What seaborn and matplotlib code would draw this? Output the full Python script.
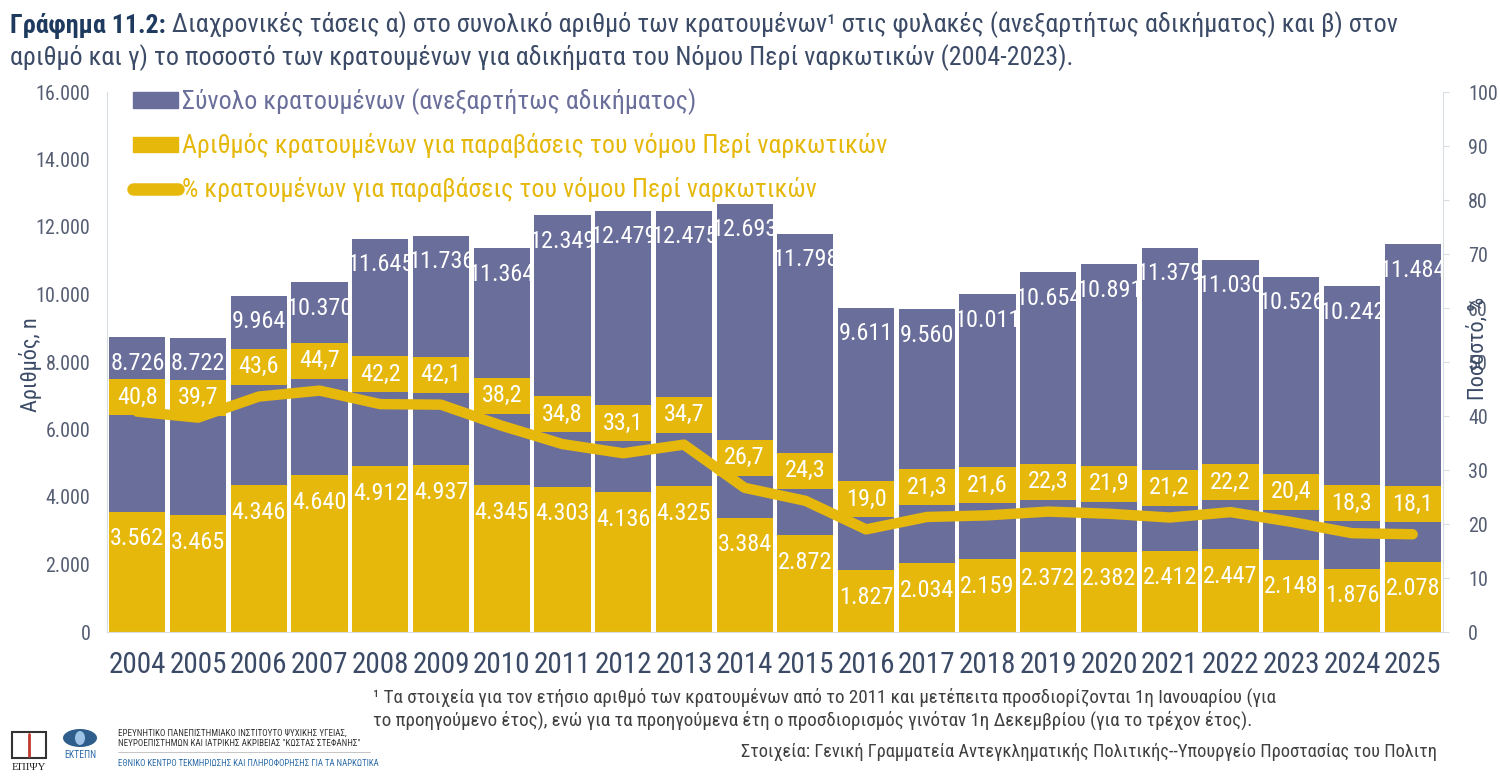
import numpy as np
import pandas as pd
import matplotlib
matplotlib.use("Agg")
import matplotlib.pyplot as plt
from matplotlib import font_manager
from matplotlib.patches import Rectangle, Ellipse
from matplotlib.lines import Line2D
import seaborn as sns

# Data
years = [str(y) for y in range(2004, 2026)]
total = [8726, 8722, 9964, 10370, 11645, 11736, 11364, 12349, 12479, 12475, 12693,
         11798, 9611, 9560, 10011, 10654, 10891, 11379, 11030, 10526, 10242, 11484]
drugs = [3562, 3465, 4346, 4640, 4912, 4937, 4345, 4303, 4136, 4325, 3384,
         2872, 1827, 2034, 2159, 2372, 2382, 2412, 2447, 2148, 1876, 2078]
pct = [40.8, 39.7, 43.6, 44.7, 42.2, 42.1, 38.2, 34.8, 33.1, 34.7, 26.7,
       24.3, 19.0, 21.3, 21.6, 22.3, 21.9, 21.2, 22.2, 20.4, 18.3, 18.1]
left_ticks = list(range(0, 16001, 2000))
right_ticks = list(range(0, 101, 10))

series_names = ["Σύνολο κρατουμένων (ανεξαρτήτως αδικήματος)",
                "Αριθμός κρατουμένων για παραβάσεις του νόμου Περί ναρκωτικών",
                "% κρατουμένων για παραβάσεις του νόμου Περί ναρκωτικών"]

purple = "#6A6E9A"
yellow = "#E5B80B"
navy = "#3B4A66"
grey_txt = "#404040"

sns.set_style("white")
installed = {f.name for f in font_manager.fontManager.ttflist}
narrow = next((f for f in ["Liberation Sans Narrow", "Roboto Condensed", "Arial Narrow"]
               if f in installed), "Liberation Sans")
plt.rcParams["font.family"] = [narrow, "DejaVu Sans"]


def gr_int(v):
    return f"{v:,}".replace(",", ".")


def gr_dec(v):
    return f"{v:.1f}".replace(".", ",")


df = pd.DataFrame({"year": years, "total": total, "drugs": drugs, "pct": pct})

fig = plt.figure(figsize=(15, 7.76), dpi=100)
ax_h_px = 540
ax = fig.add_axes([107 / 1500, 1 - 632 / 776, 1336 / 1500, ax_h_px / 776])

bw = 0.925
sns.barplot(data=df, x="year", y="total", color=purple, saturation=1, width=bw,
            linewidth=0, ax=ax)
sns.barplot(data=df, x="year", y="drugs", color=yellow, saturation=1, width=bw,
            linewidth=0, ax=ax)
ax.set_xlim(-0.5, len(years) - 0.5)
ax.set_ylim(0, 16000)
ax.set_yticks(left_ticks)
ax.set_yticklabels([gr_int(t) for t in left_ticks])
ax.tick_params(axis="y", length=0, pad=12, labelsize=14.5, labelcolor="#555E72")
ax.tick_params(axis="x", length=0, pad=14, labelsize=21, labelcolor=navy)
ax.set_xlabel("")
ax.set_ylabel("")
for s in ["top", "right"]:
    ax.spines[s].set_visible(False)
for s in ["left", "bottom"]:
    ax.spines[s].set_color("#D9DDE3")

k1 = 16000 / ax_h_px
for i in range(len(years)):
    ax.text(i, total[i] - 26 * k1, gr_int(total[i]), ha="center", va="center",
            color="white", fontsize=17.5)
    ax.text(i, drugs[i] - 27 * k1, gr_int(drugs[i]), ha="center", va="center",
            color="white", fontsize=17.5)

ax2 = ax.twinx()
sns.lineplot(x=np.arange(len(years)), y=pct, ax=ax2, color=yellow, linewidth=7.5,
             solid_capstyle="round")
ax2.set_ylim(0, 100)
ax2.set_yticks(right_ticks)
ax2.tick_params(axis="y", length=4, color="#D9DDE3", pad=14, labelsize=14.5,
                labelcolor="#555E72")
ax2.set_ylabel("")
for s in ["top", "left", "bottom"]:
    ax2.spines[s].set_visible(False)
ax2.spines["right"].set_color("#D9DDE3")

# percentage labels sit above the line, pushed down when they would hit the total label
k2 = 100 / ax_h_px
for i, p in enumerate(pct):
    tot_label = total[i] / 16000 * 100 - 26 * k2
    yc = min(p + 30 * k2, tot_label - 34 * k2)
    ax2.add_patch(Rectangle((i - bw / 2, yc - 18 * k2), bw, 36 * k2,
                            facecolor=yellow, edgecolor="none", zorder=5))
    ax2.text(i, yc, gr_dec(p), ha="center", va="center", color="white",
             fontsize=17.5, zorder=6)

fig.text(30 / 1500, 1 - 365 / 776, "Αριθμός, n", rotation=90, ha="center",
         va="center", fontsize=16, color=navy)
fig.text(1478 / 1500, 1 - 348 / 776, "Ποσοστό, %", rotation=90, ha="center",
         va="center", fontsize=16, color=navy)

handles = [Rectangle((0, 0), 1, 1, color=purple),
           Rectangle((0, 0), 1, 1, color=yellow),
           Line2D([0], [0], color=yellow, linewidth=9, solid_capstyle="round")]
fig.legend(handles, series_names, loc="upper left",
           bbox_to_anchor=(133 / 1500, 1 - 88 / 776), frameon=False, fontsize=18.6,
           labelcolor=[purple, yellow, yellow], handlelength=1.75, handleheight=0.55,
           handletextpad=0.15, labelspacing=0.72, borderpad=0, borderaxespad=0)

# Title
t_bold = fig.text(10 / 1500, 1 - 25 / 776, "Γράφημα 11.2:", fontsize=18.7,
                  fontweight="bold", color="#1F3A5F", va="center")
ax.annotate(" Διαχρονικές τάσεις α) στο συνολικό αριθμό των κρατουμένων¹ στις φυλακές "
            "(ανεξαρτήτως αδικήματος) και β) στον",
            xy=(1, 0.5), xycoords=t_bold, va="center", fontsize=18.7, color=navy,
            annotation_clip=False)
fig.text(10 / 1500, 1 - 58 / 776,
         "αριθμό και γ) το ποσοστό των κρατουμένων για αδικήματα του Νόμου Περί "
         "ναρκωτικών (2004-2023).", fontsize=18.7, color=navy, va="center")

# Footnote and source
fig.text(373 / 1500, 1 - 697 / 776,
         "¹ Τα στοιχεία για τον ετήσιο αριθμό των κρατουμένων από το 2011 και μετέπειτα "
         "προσδιορίζονται 1η Ιανουαρίου (για", fontsize=13.7, color=grey_txt, va="center")
fig.text(373 / 1500, 1 - 720 / 776,
         "το προηγούμενο έτος), ενώ για τα προηγούμενα έτη ο προσδιορισμός γινόταν "
         "1η Δεκεμβρίου (για το τρέχον έτος).", fontsize=13.7, color=grey_txt, va="center")
fig.text(1437 / 1500, 1 - 752 / 776,
         "Στοιχεία: Γενική Γραμματεία Αντεγκληματικής Πολιτικής--Υπουργείο Προστασίας "
         "του Πολιτη", fontsize=13.2, color=grey_txt, va="center", ha="right")

# Institute marks, bottom left
fig.add_artist(Rectangle((12 / 1500, 1 - 758 / 776), 34 / 1500, 26 / 776,
                         transform=fig.transFigure, facecolor="none",
                         edgecolor="#333333", linewidth=1.5))
fig.add_artist(Line2D([29 / 1500, 29 / 1500], [1 - 756 / 776, 1 - 734 / 776],
                      transform=fig.transFigure, color="#C0392B", linewidth=2))
fig.text(29 / 1500, 1 - 768 / 776, "ΕΠΙΨΥ", fontsize=8, color="#222222",
         ha="center", va="center", family="Liberation Serif")
fig.add_artist(Ellipse((80 / 1500, 1 - 738 / 776), 34 / 1500, 18 / 776,
                       transform=fig.transFigure, facecolor="#2F5D8C",
                       edgecolor="none"))
fig.add_artist(Ellipse((80 / 1500, 1 - 738 / 776), 10 / 1500, 14 / 776,
                       transform=fig.transFigure, facecolor="#9EC3E6",
                       edgecolor="none"))
fig.text(80 / 1500, 1 - 755 / 776, "ΕΚΤΕΠΝ", fontsize=7, color="#2F6DA8",
         ha="center", va="center")
fig.text(118 / 1500, 1 - 733 / 776,
         "ΕΡΕΥΝΗΤΙΚΟ ΠΑΝΕΠΙΣΤΗΜΙΑΚΟ ΙΝΣΤΙΤΟΥΤΟ ΨΥΧΙΚΗΣ ΥΓΕΙΑΣ,", fontsize=6.5,
         color="#333333", va="center")
fig.text(118 / 1500, 1 - 743 / 776,
         "ΝΕΥΡΟΕΠΙΣΤΗΜΩΝ ΚΑΙ ΙΑΤΡΙΚΗΣ ΑΚΡΙΒΕΙΑΣ \"ΚΩΣΤΑΣ ΣΤΕΦΑΝΗΣ\"", fontsize=6.5,
         color="#333333", va="center")
fig.add_artist(Line2D([118 / 1500, 370 / 1500], [1 - 752 / 776, 1 - 752 / 776],
                      transform=fig.transFigure, color="#BBBBBB", linewidth=0.6))
fig.text(118 / 1500, 1 - 763 / 776,
         "ΕΘΝΙΚΟ ΚΕΝΤΡΟ ΤΕΚΜΗΡΙΩΣΗΣ ΚΑΙ ΠΛΗΡΟΦΟΡΗΣΗΣ ΓΙΑ ΤΑ ΝΑΡΚΩΤΙΚΑ", fontsize=6.4,
         color="#2F6DA8", va="center")

fig.savefig("out.png", dpi=100)
